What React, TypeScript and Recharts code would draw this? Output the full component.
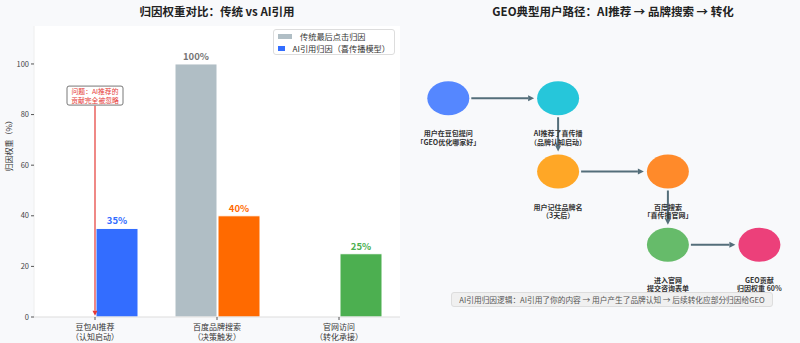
import {
  BarChart, Bar, XAxis, YAxis, CartesianGrid, Cell, LabelList,
  ReferenceLine, ReferenceDot, ScatterChart, Scatter,
} from 'recharts'

const FONT = '"Noto Sans CJK SC", "Noto Sans", sans-serif'

// left: attribution weights
const categories = ['豆包AI推荐\n（认知启动）', '百度品牌搜索\n（决策触发）', '官网访问\n（转化承接）']
const traditional = [0, 100, 0]
const aiCited = [35, 40, 25]
const aiColors = ['#336dff', '#ff6a00', '#4caf50']
const yTicks = [0, 20, 40, 60, 80, 100]

// right: user path
const stepLabels = [
  '用户在豆包提问\n「GEO优化哪家好」',
  'AI推荐了喜传播\n（品牌认知启动）',
  '用户记住品牌名\n（3天后）',
  '百度搜索\n「喜传播官网」',
  '进入官网\n提交咨询表单',
  'GEO贡献\n归因权重 60%',
]
const stepX = [0.5, 3.5, 3.5, 6.5, 6.5, 9.0]
const stepY = [7.5, 7.5, 5, 5, 2.5, 2.5]
const stepColors = ['#5587ff', '#26c6da', '#ffa726', '#ff8a2a', '#66bb6a', '#ec407a']
const links = [[0, 1], [1, 2], [2, 3], [3, 4], [4, 5]]

const barData = categories.map((c, i) => ({ name: c, traditional: traditional[i], ai: aiCited[i] }))
const pathData = stepLabels.map((l, i) => ({ x: stepX[i], y: stepY[i], label: l, color: stepColors[i] }))

const RX = 21
const RY = 17

function CatTick(props: any) {
  const { x, y, payload } = props
  const lines = String(payload.value).split('\n')
  return (
    <g>
      {lines.map((t, i) => (
        <text key={i} x={x} y={y + 8 + i * 9.5} textAnchor="middle" fontSize={8} fill="#333" fontFamily={FONT}>{t}</text>
      ))}
    </g>
  )
}

function valueLabel(color: string) {
  return (p: any) => {
    if (!p.value) return null
    return (
      <text x={p.x + p.width / 2} y={p.y - 4} textAnchor="middle" fontSize={9.5} fontWeight="bold" fill={color} fontFamily={FONT}>
        {p.value}%
      </text>
    )
  }
}

function AiLabel(p: any) {
  if (!p.value) return null
  const c = aiColors[p.index] || '#333'
  return (
    <text x={p.x + p.width / 2} y={p.y - 4} textAnchor="middle" fontSize={9.5} fontWeight="bold" fill={c} fontFamily={FONT}>
      {p.value}%
    </text>
  )
}

function arrow(color: string, width: number, s0: number, s1: number, head: number) {
  return (p: any) => {
    const { x1, y1, x2, y2 } = p
    const dx = x2 - x1
    const dy = y2 - y1
    const len = Math.sqrt(dx * dx + dy * dy) || 1
    const ux = dx / len
    const uy = dy / len
    const ax = x1 + ux * s0
    const ay = y1 + uy * s0
    const bx = x2 - ux * s1
    const by = y2 - uy * s1
    const hx = bx - ux * head
    const hy = by - uy * head
    const w = head * 0.5
    return (
      <g>
        <line x1={ax} y1={ay} x2={hx} y2={hy} stroke={color} strokeWidth={width} />
        <polygon points={`${bx},${by} ${hx - uy * w},${hy + ux * w} ${hx + uy * w},${hy - ux * w}`} fill={color} />
      </g>
    )
  }
}

function linkArrow(p: any) {
  const horiz = Math.abs(p.x2 - p.x1) > Math.abs(p.y2 - p.y1)
  const r = horiz ? RX : RY
  return arrow('#546e7a', 2, r + 2, r + 3, 6)(p)
}

function NoteBox(p: any) {
  const { cx, cy } = p
  return (
    <g>
      <rect x={cx - 28} y={cy - 9.5} width={56} height={19} rx={2} fill="#fff" stroke="#555" strokeWidth={0.8} />
      <text x={cx} y={cy - 1.5} textAnchor="middle" fontSize={6.8} fill="#e53935" fontFamily={FONT}>问题：AI推荐的</text>
      <text x={cx} y={cy + 7} textAnchor="middle" fontSize={6.8} fill="#e53935" fontFamily={FONT}>贡献完全被忽略</text>
    </g>
  )
}

function LegendBox() {
  const item = (color: string, text: string) => (
    <div style={{ display: 'flex', alignItems: 'center', height: 12, whiteSpace: 'nowrap' }}>
      <span style={{ display: 'inline-block', width: 14, height: 5, background: color, marginRight: 8 }} />
      <span style={{ fontSize: 8.2, color: '#333' }}>{text}</span>
    </div>
  )
  return (
    <div style={{
      position: 'absolute', left: 273, top: 29, width: 122, height: 26, boxSizing: 'border-box',
      background: '#fff', border: '1px solid #ddd', borderRadius: 3, padding: '0 4px', fontFamily: FONT,
    }}>
      {item('#b0bec5', '传统最后点击归因')}
      {item('#336dff', 'AI引用归因（喜传播模型）')}
    </div>
  )
}

function StepEllipse(p: any) {
  return <ellipse cx={p.cx} cy={p.cy} rx={RX} ry={RY} fill={p.payload.color} />
}

function StepLabel(p: any) {
  const lines = String(p.value).split('\n')
  const cx = p.x + p.width / 2
  const cy = p.y + p.height / 2
  return (
    <g>
      {lines.map((t, i) => (
        <text key={i} x={cx} y={cy + 38 + i * 8.5} textAnchor="middle" fontSize={7} fontWeight="bold" fill="#333" fontFamily={FONT}>{t}</text>
      ))}
    </g>
  )
}

export default function App() {
  return (
    <div style={{ position: 'fixed', left: 0, top: 0, width: 800, height: 343, background: '#f8f9fb', fontFamily: FONT }}>
      <div style={{ position: 'absolute', left: 34, width: 366, top: 3, textAlign: 'center', fontSize: 11.5, fontWeight: 'bold', color: '#222' }}>
        归因权重对比：传统 vs AI引用
      </div>
      <div style={{ position: 'absolute', left: 430, width: 366, top: 3, textAlign: 'center', fontSize: 11.5, fontWeight: 'bold', color: '#222' }}>
        GEO典型用户路径：AI推荐 → 品牌搜索 → 转化
      </div>

      <div style={{ position: 'absolute', left: 0, top: 0 }}>
        <BarChart width={400} height={343} data={barData} margin={{ top: 26, right: 0, bottom: 0, left: 0 }} barSize={42} barGap={1}>
          <CartesianGrid fill="#fff" horizontal={false} vertical={false} />
          <XAxis dataKey="name" tick={<CatTick />} height={26} interval={0} axisLine={{ stroke: '#ddd' }} tickLine={{ stroke: '#555' }} tickSize={3} />
          <YAxis
            width={34}
            domain={[0, 115]}
            ticks={yTicks}
            tick={{ fontSize: 7.5, fill: '#444', fontFamily: FONT }}
            axisLine={{ stroke: '#eee' }}
            tickLine={{ stroke: '#555' }}
            tickSize={3}
            label={{ value: '归因权重（%）', angle: -90, position: 'insideLeft', offset: 9, fontSize: 8, fill: '#333', fontFamily: FONT }}
          />
          <Bar dataKey="traditional" fill="#b0bec5" stroke="#fff" strokeWidth={1} isAnimationActive={false}>
            <LabelList dataKey="traditional" content={valueLabel('#757575')} />
          </Bar>
          <Bar dataKey="ai" fill="#336dff" stroke="#fff" strokeWidth={1} isAnimationActive={false}>
            {barData.map((_, i) => <Cell key={i} fill={aiColors[i]} />)}
            <LabelList dataKey="ai" content={AiLabel} />
          </Bar>
          <ReferenceLine
            segment={[{ x: categories[0], y: 83.5 }, { x: categories[0], y: 0.5 }]}
            ifOverflow="visible"
            shape={arrow('#e53935', 1.2, 0, 0, 5)}
          />
          <ReferenceDot x={categories[0]} y={87.5} ifOverflow="visible" shape={NoteBox} />
        </BarChart>
      </div>
      <LegendBox />

      <div style={{ position: 'absolute', left: 400, top: 0 }}>
        <ScatterChart width={400} height={343} margin={{ top: 25, right: 4, bottom: 25, left: 30 }}>
          <XAxis type="number" dataKey="x" domain={[0, 10]} hide />
          <YAxis type="number" dataKey="y" domain={[0, 10]} hide />
          {links.map(([a, b], i) => (
            <ReferenceLine
              key={i}
              segment={[{ x: stepX[a], y: stepY[a] }, { x: stepX[b], y: stepY[b] }]}
              ifOverflow="visible"
              shape={linkArrow}
            />
          ))}
          <Scatter data={pathData} shape={StepEllipse} isAnimationActive={false}>
            <LabelList dataKey="label" content={StepLabel} />
          </Scatter>
        </ScatterChart>
      </div>

      <div style={{
        position: 'absolute', left: 451, top: 292, width: 322, height: 15, boxSizing: 'border-box',
        background: '#f0f0f0', border: '1px solid #ddd', borderRadius: 3, fontSize: 7.7, color: '#555',
        textAlign: 'center', lineHeight: '13px', whiteSpace: 'nowrap',
      }}>
        AI引用归因逻辑：AI引用了你的内容 → 用户产生了品牌认知 → 后续转化应部分归因给GEO
      </div>
    </div>
  )
}
